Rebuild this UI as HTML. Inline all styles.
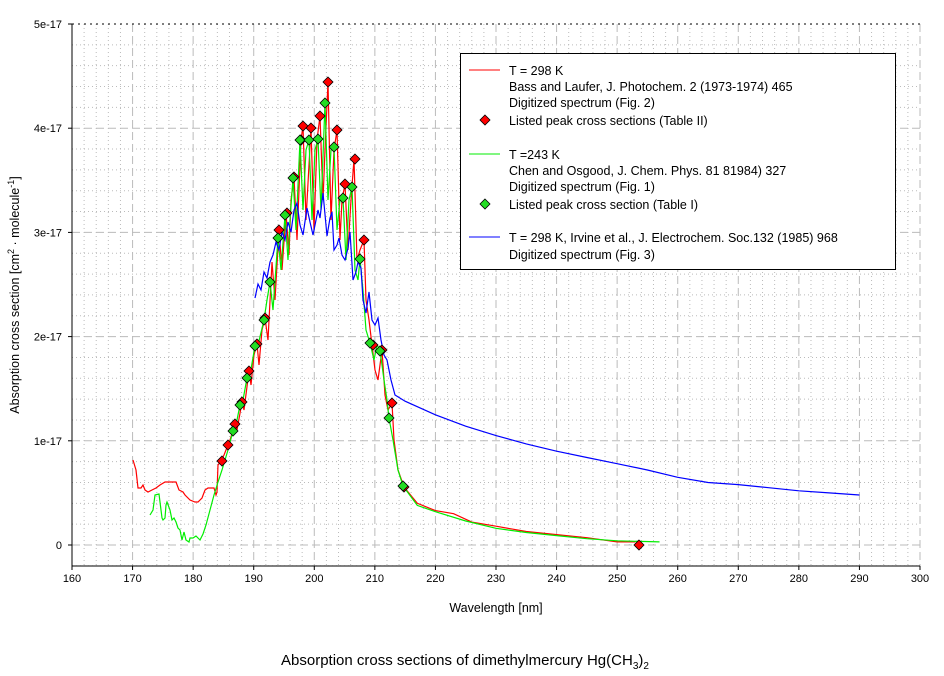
<!DOCTYPE html><html><head><meta charset="utf-8"><style>
body{margin:0;background:#fff}svg{display:block;font-family:"Liberation Sans",Arial,sans-serif}
</style></head><body>
<svg id="s" width="944" height="676" xmlns="http://www.w3.org/2000/svg">
<g id="grid"></g>
<line x1="72" y1="24" x2="920" y2="24" stroke="#000" stroke-dasharray="2,4"/>
<line x1="72" y1="24" x2="72" y2="566" stroke="#000"/>
<line x1="72" y1="566" x2="920" y2="566" stroke="#000"/>
<g id="ticks" font-size="11" fill="#000"></g>
<g id="series"></g>
<rect x="460.5" y="53.5" width="435" height="216" fill="#fff" stroke="#000"/>
<g font-size="12.5" fill="#000">
<line x1="469" y1="70" x2="500" y2="70" stroke="#f00"/>
<text x="509" y="75">T = 298 K</text>
<text x="509" y="91">Bass and Laufer, J. Photochem.  2 (1973-1974) 465</text>
<text x="509" y="107">Digitized spectrum (Fig. 2)</text>
<polygon points="485,115 490,120 485,125 480,120" fill="#f00" stroke="#000" stroke-width="0.8"/>
<text x="509" y="125">Listed peak cross sections (Table II)</text>
<line x1="469" y1="154" x2="500" y2="154" stroke="#0e0"/>
<text x="509" y="159">T =243 K</text>
<text x="509" y="175">Chen and Osgood, J. Chem. Phys. 81 81984) 327</text>
<text x="509" y="191">Digitized spectrum (Fig. 1)</text>
<polygon points="485,199 490,204 485,209 480,204" fill="#2d2" stroke="#000" stroke-width="0.8"/>
<text x="509" y="209">Listed peak cross section (Table I)</text>
<line x1="469" y1="237" x2="500" y2="237" stroke="#00f"/>
<text x="509" y="242">T = 298 K, Irvine et al., J. Electrochem. Soc.132 (1985) 968</text>
<text x="509" y="259">Digitized spectrum (Fig. 3)</text>
</g>
<text x="496" y="612" font-size="12.5" text-anchor="middle">Wavelength [nm]</text>
<text transform="translate(19,295) rotate(-90)" font-size="12.5" text-anchor="middle">Absorption cross section [cm<tspan font-size="9" dy="-5">2</tspan><tspan dy="5"> · molecule</tspan><tspan font-size="9" dy="-5">-1</tspan><tspan dy="5">]</tspan></text>
<text x="465" y="665" font-size="15" text-anchor="middle">Absorption cross sections of dimethylmercury Hg(CH<tspan font-size="10" dy="4">3</tspan><tspan dy="-4">)</tspan><tspan font-size="10" dy="4">2</tspan></text>
</svg>
<script>
const NS="http://www.w3.org/2000/svg";
const X=v=>72+(v-160)*848/140, Y=v=>545-v*104.2;
function el(p,t,a,txt){const e=document.createElementNS(NS,t);for(const k in a)e.setAttribute(k,a[k]);if(txt!==undefined)e.textContent=txt;p.appendChild(e);return e;}
const g=document.getElementById('grid'),tk=document.getElementById('ticks'),sr=document.getElementById('series');
for(let v=162;v<300;v+=2){if(v%10==0)continue;el(g,'line',{x1:X(v),x2:X(v),y1:24,y2:566,stroke:'#bbb','stroke-dasharray':'1,3'});}
for(let v=-0.2;v<5;v+=0.2){const r=Math.round(v*10);if(r%10==0)continue;el(g,'line',{x1:72,x2:920,y1:Y(v),y2:Y(v),stroke:'#bbb','stroke-dasharray':'1,3'});}
for(let v=170;v<=300;v+=10)el(g,'line',{x1:X(v),x2:X(v),y1:24,y2:566,stroke:'#bbb','stroke-dasharray':'8,4'});
for(let v=0;v<5;v++)el(g,'line',{x1:72,x2:920,y1:Y(v),y2:Y(v),stroke:'#bbb','stroke-dasharray':'8,4'});
for(let v=160;v<=300;v+=10){el(tk,'line',{x1:X(v),x2:X(v),y1:566,y2:570,stroke:'#000'});el(tk,'text',{x:X(v),y:582,'text-anchor':'middle'},v);}
['0','1e-17','2e-17','3e-17','4e-17','5e-17'].forEach((t,i)=>{el(tk,'line',{x1:68,x2:72,y1:Y(i),y2:Y(i),stroke:'#000'});el(tk,'text',{x:62,y:Y(i)+4,'text-anchor':'end'},t);});
const D=a=>a.map(p=>[X(p[0]),Y(p[1])]);
function pl(pts,c){el(sr,'polyline',{points:pts.map(p=>p[0].toFixed(1)+','+p[1].toFixed(1)).join(' '),fill:'none',stroke:c,'stroke-width':1.2});}
let red=[[133,460],[136,470],[138,488],[141,488],[143,485],[145,490],[148,492],[152,490],[156,488],[160,485],[165,482],[176,482],[179,490],[183,492],[185,495],[190,500],[195,502],[198,502],[202,498],[205,490],[208,488],[214,488],[216,495],[217,492],[218,465],[221,461],[224,455],[228,445],[230,440],[235,424],[237,430],[242,402],[244,410],[249,371],[251,385],[254,355],[257,344],[259,365],[262,330],[265,318],[268,340],[272,262],[275,300],[279,230],[282,270],[286,213],[289,255],[291,200],[294,177],[297,240],[301,140],[303,126],[306,220],[311,128],[314,230],[317,140],[320,116],[323,200],[325,150],[328,82],[331,220],[334,150],[337,130],[340,240],[342,200],[345,184],[348,250],[351,200],[354,159],[357,260],[360,250],[364,240],[366,300],[369,320],[372,345],[375,370],[378,380],[380,365],[382,350],[385,395],[388,410],[392,403],[394,440],[398,470],[404,487]];
red=red.concat(D([[217,0.4],[220,0.33],[223,0.3],[226,0.22],[230,0.18],[235,0.13],[240,0.1],[245,0.07],[250,0.03],[253,0.03]]));
pl(red,'#f00');
let gr=[[150,515],[153,510],[155,495],[159,494],[161,510],[162,518],[163,520],[165,518],[166,505],[167,502],[170,510],[172,520],[174,518],[176,522],[178,528],[180,530],[182,540],[184,532],[186,540],[189,542],[190,538],[193,538],[196,536],[200,540],[203,534],[206,525],[210,510],[214,495],[218,482],[222,470],[228,450],[233,431],[236,425],[240,405],[243,400],[247,378],[250,375],[255,346],[258,345],[264,320],[267,300],[270,282],[273,310],[278,238],[281,270],[285,215],[288,260],[290,220],[293,178],[296,230],[300,140],[303,210],[306,150],[309,140],[312,220],[315,150],[318,139],[321,210],[325,103],[328,200],[331,150],[334,147],[337,230],[340,200],[343,198],[346,260],[349,200],[352,187],[355,270],[358,280],[360,259],[363,290],[366,330],[370,343],[374,360],[377,345],[380,350],[384,380],[387,400],[389,418],[393,440],[398,470],[403,486]];
gr=gr.concat(D([[217,0.38],[220,0.32],[225,0.23],[230,0.16],[235,0.12],[240,0.09],[245,0.06],[250,0.04],[257,0.03]]));
pl(gr,'#0e0');
let bl=[[255,298],[258,284],[261,290],[264,272],[267,278],[270,262],[273,255],[276,242],[279,250],[282,232],[285,240],[288,222],[291,232],[294,210],[297,203],[300,225],[303,235],[307,208],[310,222],[313,235],[318,210],[320,218],[323,193],[327,236],[330,218],[332,212],[334,250],[337,245],[339,238],[342,255],[345,260],[348,248],[350,232],[353,280],[356,272],[358,262],[361,268],[363,300],[366,313],[369,292],[372,320],[375,325],[378,318],[381,340],[384,355],[387,360],[391,380],[395,395]];
bl=bl.concat(D([[215,1.38],[220,1.25],[225,1.14],[230,1.05],[235,0.97],[240,0.9],[245,0.84],[250,0.78],[255,0.72],[260,0.65],[265,0.6],[270,0.58],[275,0.55],[280,0.52],[285,0.5],[290,0.48]]));
pl(bl,'#00f');
function dia(px,py,c){el(sr,'polygon',{points:`${px},${py-5} ${px+5},${py} ${px},${py+5} ${px-5},${py}`,fill:c,stroke:'#000','stroke-width':0.8});}
[[222,461],[228,445],[235,424],[242,402],[249,371],[257,344],[265,318],[279,230],[287,213],[294,177],[301,140],[303,126],[311,128],[320,116],[328,82],[337,130],[345,184],[355,159],[364,240],[373,345],[382,350],[392,403],[404,487],[639,545]].forEach(p=>dia(p[0],p[1],'#f00'));
[[233,431],[240,405],[247,378],[255,346],[264,320],[270,282],[278,238],[285,215],[293,178],[300,140],[309,140],[318,139],[325,103],[334,147],[343,198],[352,187],[360,259],[370,343],[380,351],[389,418],[403,486]].forEach(p=>dia(p[0],p[1],'#2d2'));
</script>
</body></html>
